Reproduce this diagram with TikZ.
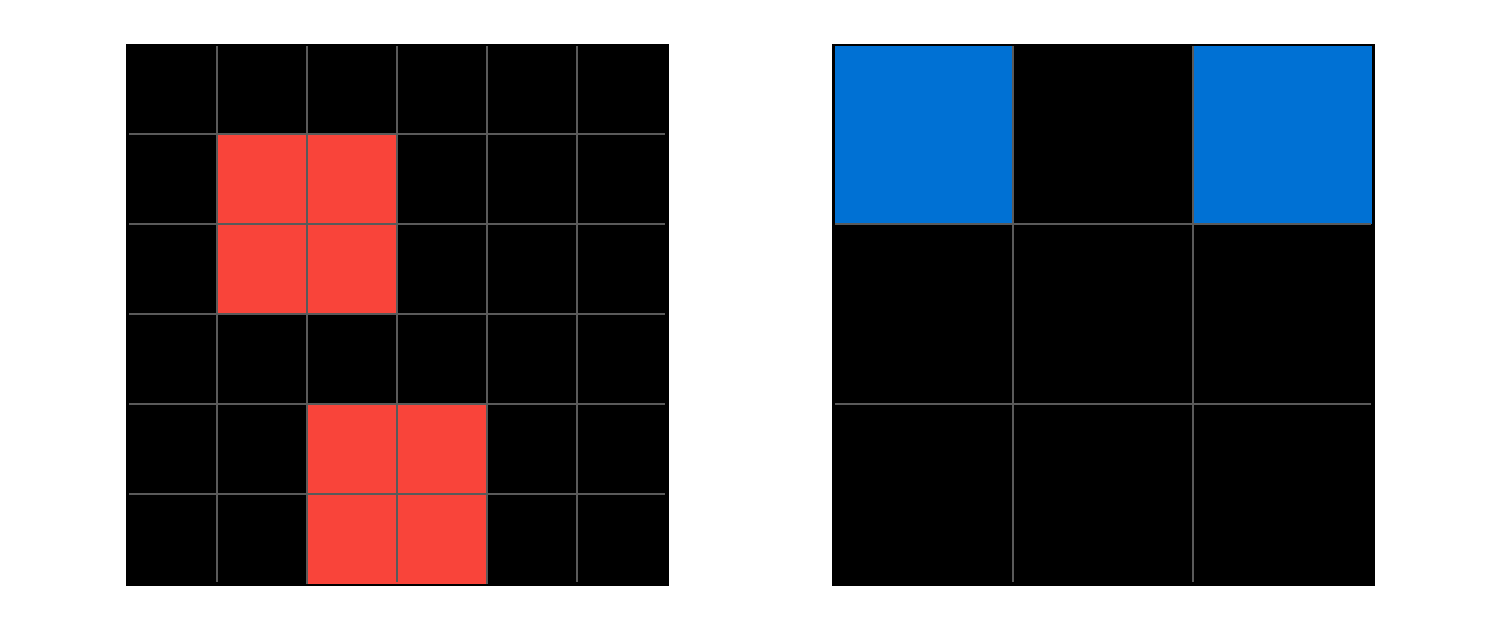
\documentclass[tikz,border=0pt]{standalone}
\definecolor{cellred}{HTML}{F9443A}
\definecolor{cellblue}{HTML}{0071D4}
\definecolor{gridgray}{HTML}{5A5A5A}
\tikzset{
  gridline/.style={draw=gridgray, line width=1.6pt},
  board/.style={fill=black},
}
\begin{document}
\begin{tikzpicture}[x=1pt,y=-1pt]
\useasboundingbox (0,0) rectangle (1500,629);
% left board
\fill[board] (125.5,43.5) rectangle (668.5,585.5);
\fill[cellred] (217,134) rectangle (397,314);
\fill[cellred] (307,404) rectangle (487,584);
\foreach \i in {1,...,5} {
  \draw[gridline] ({127+90*\i},46) -- ({127+90*\i},582);
  \draw[gridline] (129,{44+90*\i}) -- (665,{44+90*\i});
}
\draw[gridline] (217,134) rectangle (397,314);
\draw[gridline] (307,404) -- (307,584);
\draw[gridline] (487,404) -- (487,584);
% right board
\fill[board] (832,43.5) rectangle (1374.5,585.5);
\fill[cellblue] (835,46) rectangle (1013,224);
\fill[cellblue] (1193,46) rectangle (1372,224);
\foreach \i in {1,2} {
  \draw[gridline] ({833+180*\i},46) -- ({833+180*\i},582);
  \draw[gridline] (835,{44+180*\i}) -- (1371,{44+180*\i});
}
\end{tikzpicture}
\end{document}
